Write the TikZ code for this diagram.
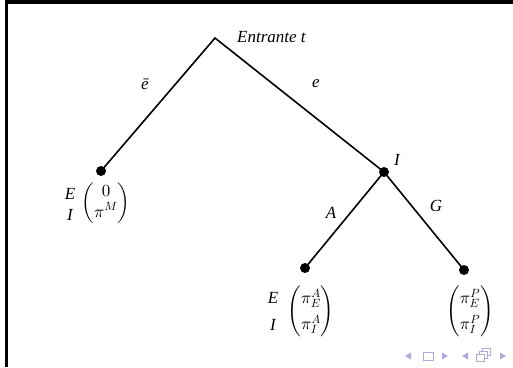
\documentclass[tikz,border=0pt]{standalone}
\usepackage{amsmath}
\usepackage{fontspec}
\setmainfont{Liberation Serif}
\DeclareFontShape{OML}{cmm}{m}{it}{<->cmmi10}{}
\DeclareFontShape{OMS}{cmsy}{m}{n}{<->cmsy10}{}
\DeclareFontShape{OMX}{cmex}{m}{n}{<->cmex10}{}
\DeclareFontShape{OT1}{cmr}{m}{n}{<->cmr10}{}
\begin{document}
\begin{tikzpicture}[x=1pt,y=-1pt,
  dot/.style={circle,fill=black,inner sep=0pt,minimum size=10pt},
  edge/.style={line width=1.6pt},
  lbl/.style={font=\fontsize{17}{20}\selectfont\itshape,inner sep=1pt},
  pay/.style={font=\fontsize{17}{20}\selectfont,inner sep=0pt},
  nav/.style={fill=navc,draw=none},
  navo/.style={draw=navc,line width=1pt,fill=white}]
\definecolor{navc}{RGB}{170,170,225}
\useasboundingbox (0,0) rectangle (513,367);
% frame
\fill[black] (5,0) rectangle (513,3.5);
\fill[black] (5,0) rectangle (7.5,367);
% nodes
\coordinate (r) at (215,38);
\node[dot] (l) at (101,171) {};
\node[dot] (i) at (384,172) {};
\node[dot] (a) at (305,268) {};
\node[dot] (g) at (464,270) {};
\draw[edge,line join=miter] (l.center) -- (r) -- (i.center);
\draw[edge] (i.center) -- (a.center);
\draw[edge] (i.center) -- (g.center);
% labels
\node[lbl,anchor=west] (ent) at (236,37) {Entrante t};
\node[lbl] (eb) at (145,84) {\=e};
\node[lbl] (ee) at (316,84) {e};
\node[lbl] (il) at (397,160) {I};
\node[lbl] (al) at (331,213) {A};
\node[lbl] (gl) at (436,206) {G};
% payoffs
\node[lbl] (le) at (70,194) {E};
\node[lbl] (li) at (70,215) {I};
\node[pay] (lv) at (106,203) {$\renewcommand{\arraystretch}{1.0}\begin{pmatrix}0\\ \pi^{M}\end{pmatrix}$};
\node[lbl] (ae) at (273,298) {E};
\node[lbl] (ai) at (273,325) {I};
\node[pay] (av) at (311,311) {$\renewcommand{\arraystretch}{1.3}\begin{pmatrix}\pi_{E}^{A}\\ \pi_{I}^{A}\end{pmatrix}$};
\node[pay] (gv) at (470,311) {$\renewcommand{\arraystretch}{1.3}\begin{pmatrix}\pi_{E}^{P}\\ \pi_{I}^{P}\end{pmatrix}$};
% navigation symbols
\fill[nav] (405,356) -- (411,352.5) -- (411,359.5) -- cycle;
\draw[navo] (423,352) rectangle (433,360);
\fill[nav] (448,356) -- (442,352.5) -- (442,359.5) -- cycle;
\fill[nav] (462,356) -- (468,352.5) -- (468,359.5) -- cycle;
\draw[navo] (482,348) rectangle (490,355);
\draw[navo] (479,351) rectangle (487,358);
\draw[navo] (476,354) rectangle (484,361);
\fill[nav] (506,356) -- (500,352.5) -- (500,359.5) -- cycle;
\end{tikzpicture}
\end{document}
